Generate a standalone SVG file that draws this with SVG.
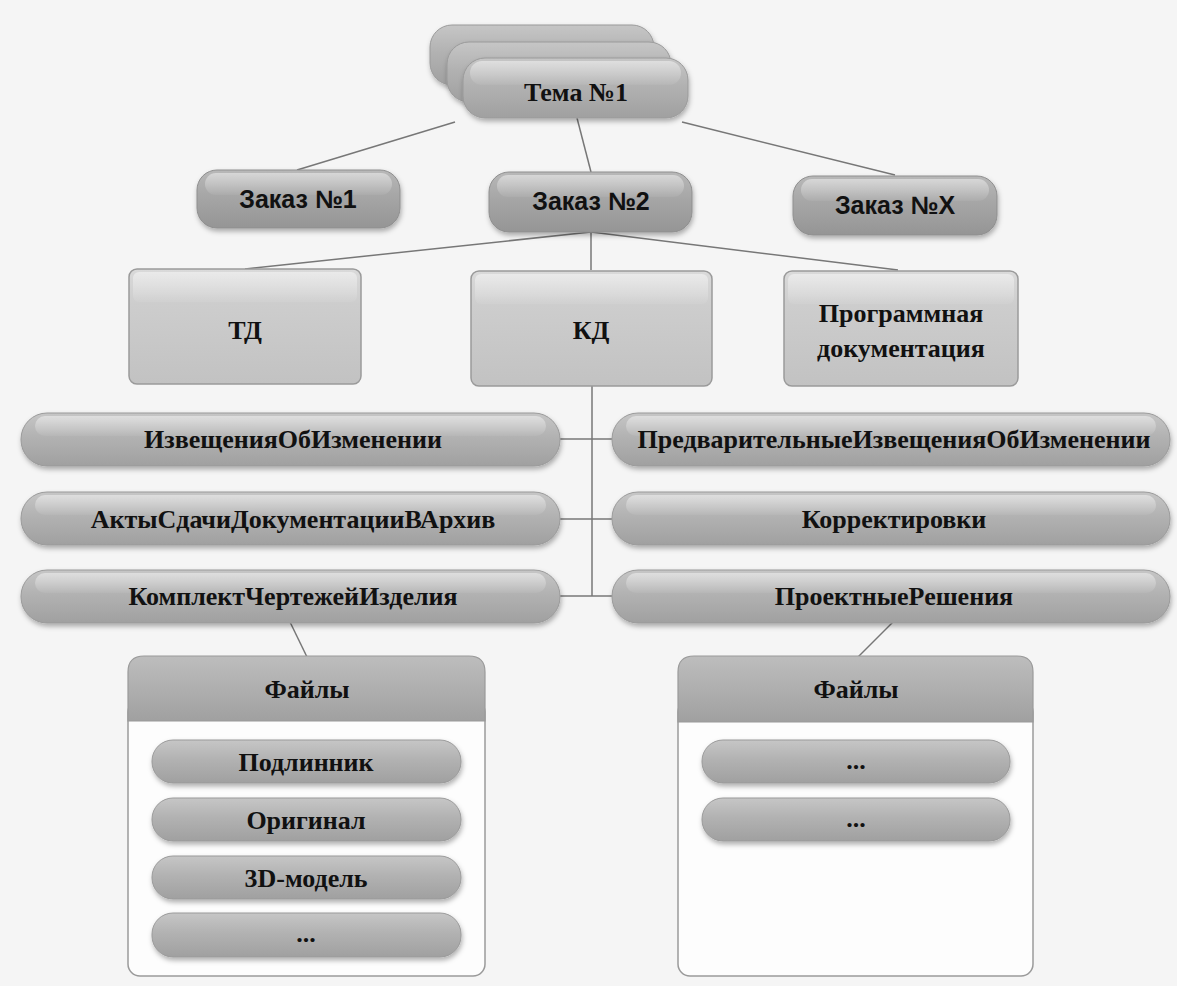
<svg xmlns="http://www.w3.org/2000/svg" width="1177" height="986" viewBox="0 0 1177 986">
  <defs>
    <linearGradient id="gPill" x1="0" y1="0" x2="0" y2="1">
      <stop offset="0" stop-color="#c6c6c6"/>
      <stop offset="0.45" stop-color="#b2b2b2"/>
      <stop offset="1" stop-color="#a0a0a0"/>
    </linearGradient>
    <linearGradient id="gDark" x1="0" y1="0" x2="0" y2="1">
      <stop offset="0" stop-color="#b8b8b8"/>
      <stop offset="0.45" stop-color="#a6a6a6"/>
      <stop offset="1" stop-color="#959595"/>
    </linearGradient>
    <linearGradient id="gBox" x1="0" y1="0" x2="0" y2="1">
      <stop offset="0" stop-color="#dadada"/>
      <stop offset="0.3" stop-color="#cdcdcd"/>
      <stop offset="1" stop-color="#c2c2c2"/>
    </linearGradient>
    <linearGradient id="gHead" x1="0" y1="0" x2="0" y2="1">
      <stop offset="0" stop-color="#bdbdbd"/>
      <stop offset="0.6" stop-color="#acacac"/>
      <stop offset="1" stop-color="#a0a0a0"/>
    </linearGradient>
    <linearGradient id="gShine" x1="0" y1="0" x2="0" y2="1">
      <stop offset="0" stop-color="#ffffff" stop-opacity="0.45"/>
      <stop offset="1" stop-color="#ffffff" stop-opacity="0.05"/>
    </linearGradient>
    <filter id="sh" x="-10%" y="-20%" width="120%" height="150%">
      <feDropShadow dx="1" dy="3" stdDeviation="2.5" flood-color="#000" flood-opacity="0.3"/>
    </filter>
    <style>
      .pill { fill: url(#gPill); stroke: #9a9a9a; stroke-width: 1; filter: url(#sh); }
      .dark { fill: url(#gDark); stroke: #8f8f8f; stroke-width: 1; filter: url(#sh); }
      .box { fill: url(#gBox); stroke: #9a9a9a; stroke-width: 1.5; }
      .shine { fill: url(#gShine); stroke: none; }
      .head { fill: url(#gHead); stroke: #9a9a9a; stroke-width: 1.2; }
      .body { fill: #fdfdfd; stroke: #9a9a9a; stroke-width: 1.5; }
      .ser { font-family: "Liberation Serif", "DejaVu Serif", serif; font-weight: bold; font-size: 26px; fill: #111; text-anchor: middle; }
      .san { font-family: "Liberation Sans", Arial, sans-serif; font-weight: bold; font-size: 25px; fill: #111; text-anchor: middle; }
      .con { stroke: #777; stroke-width: 1.5; fill: none; }
    </style>
  </defs>
  <rect x="0" y="0" width="1177" height="986" fill="#f5f5f5"/>

  <g id="connectors">
    <line class="con" x1="455" y1="122" x2="297" y2="170"/>
    <line class="con" x1="577" y1="118" x2="591" y2="172"/>
    <line class="con" x1="682" y1="122" x2="895" y2="175"/>
    <line class="con" x1="591" y1="232" x2="245" y2="269"/>
    <line class="con" x1="591" y1="232" x2="591" y2="270"/>
    <line class="con" x1="591" y1="232" x2="898" y2="270"/>
    <line class="con" x1="592" y1="386" x2="592" y2="596"/>
    <line class="con" x1="560" y1="439" x2="612" y2="439"/>
    <line class="con" x1="560" y1="519" x2="612" y2="519"/>
    <line class="con" x1="560" y1="596" x2="612" y2="596"/>
    <line class="con" x1="290" y1="622" x2="307" y2="657"/>
    <line class="con" x1="893" y1="622" x2="858" y2="657"/>
  </g>

  <g id="tema">
    <rect class="pill" x="430" y="25" width="224" height="60" rx="22"/>
    <rect class="pill" x="447" y="42" width="224" height="60" rx="22"/>
    <rect class="pill" x="463" y="58" width="225" height="60" rx="22"/>
    <rect class="shine" x="470" y="61" width="211" height="24" rx="12"/>
    <text class="ser" x="576" y="101">Тема №1</text>
  </g>

  <g id="zakaz1">
    <rect class="dark" x="197" y="170" width="203" height="58" rx="20"/>
    <rect class="shine" x="205" y="173" width="187" height="22" rx="11"/>
    <text class="san" x="298" y="208">Заказ №1</text>
  </g>
  <g id="zakaz2">
    <rect class="dark" x="489" y="172" width="203" height="60" rx="20"/>
    <rect class="shine" x="497" y="175" width="187" height="22" rx="11"/>
    <text class="san" x="591" y="210">Заказ №2</text>
  </g>
  <g id="zakazX">
    <rect class="dark" x="793" y="176" width="204" height="59" rx="20"/>
    <rect class="shine" x="801" y="179" width="188" height="22" rx="11"/>
    <text class="san" x="895" y="214">Заказ №X</text>
  </g>

  <g id="td">
    <rect class="box" x="129" y="269" width="232" height="115" rx="8"/>
    <rect class="shine" x="133" y="272" width="224" height="30" rx="6"/>
    <text class="ser" x="245" y="339">ТД</text>
  </g>
  <g id="kd">
    <rect class="box" x="471" y="271" width="241" height="115" rx="8"/>
    <rect class="shine" x="475" y="274" width="233" height="30" rx="6"/>
    <text class="ser" x="591" y="339">КД</text>
  </g>
  <g id="pd">
    <rect class="box" x="784" y="271" width="234" height="115" rx="8"/>
    <rect class="shine" x="788" y="274" width="226" height="30" rx="6"/>
    <text class="ser" x="901" y="322">Программная</text>
    <text class="ser" x="901" y="357">документация</text>
  </g>

  <g id="izv">
    <rect class="pill" x="21" y="413" width="539" height="53" rx="26"/>
    <rect class="shine" x="35" y="416" width="511" height="20" rx="10"/>
    <text class="ser" x="293" y="448">ИзвещенияОбИзменении</text>
  </g>
  <g id="akty">
    <rect class="pill" x="21" y="492" width="539" height="53" rx="26"/>
    <rect class="shine" x="35" y="495" width="511" height="20" rx="10"/>
    <text class="ser" x="293" y="528">АктыСдачиДокументацииВАрхив</text>
  </g>
  <g id="komplekt">
    <rect class="pill" x="21" y="570" width="539" height="53" rx="26"/>
    <rect class="shine" x="35" y="573" width="511" height="20" rx="10"/>
    <text class="ser" x="293" y="605">КомплектЧертежейИзделия</text>
  </g>
  <g id="predv">
    <rect class="pill" x="612" y="413" width="558" height="53" rx="26"/>
    <rect class="shine" x="626" y="416" width="530" height="20" rx="10"/>
    <text class="ser" x="894" y="448">ПредварительныеИзвещенияОбИзменении</text>
  </g>
  <g id="korr">
    <rect class="pill" x="612" y="492" width="558" height="53" rx="26"/>
    <rect class="shine" x="626" y="495" width="530" height="20" rx="10"/>
    <text class="ser" x="894" y="528">Корректировки</text>
  </g>
  <g id="proekt">
    <rect class="pill" x="612" y="570" width="558" height="53" rx="26"/>
    <rect class="shine" x="626" y="573" width="530" height="20" rx="10"/>
    <text class="ser" x="894" y="605">ПроектныеРешения</text>
  </g>

  <g id="files1">
    <rect class="body" x="128" y="700" width="357" height="276" rx="12"/>
    <path class="head" d="M128,721 V672 Q128,656 144,656 H469 Q485,656 485,672 V721 Z"/>
    <text class="ser" x="307" y="698">Файлы</text>
    <rect class="pill" x="152" y="740" width="309" height="43" rx="21"/>
    <text class="ser" x="306" y="771">Подлинник</text>
    <rect class="pill" x="152" y="798" width="309" height="43" rx="21"/>
    <text class="ser" x="306" y="829">Оригинал</text>
    <rect class="pill" x="152" y="856" width="309" height="43" rx="21"/>
    <text class="ser" x="306" y="887">3D-модель</text>
    <rect class="pill" x="152" y="913" width="309" height="44" rx="21"/>
    <text class="ser" x="306" y="942">...</text>
  </g>

  <g id="files2">
    <rect class="body" x="678" y="700" width="355" height="276" rx="12"/>
    <path class="head" d="M678,722 V672 Q678,656 694,656 H1017 Q1033,656 1033,672 V722 Z"/>
    <text class="ser" x="856" y="698">Файлы</text>
    <rect class="pill" x="702" y="740" width="308" height="43" rx="21"/>
    <text class="ser" x="856" y="769">...</text>
    <rect class="pill" x="702" y="798" width="308" height="43" rx="21"/>
    <text class="ser" x="856" y="827">...</text>
  </g>
</svg>
